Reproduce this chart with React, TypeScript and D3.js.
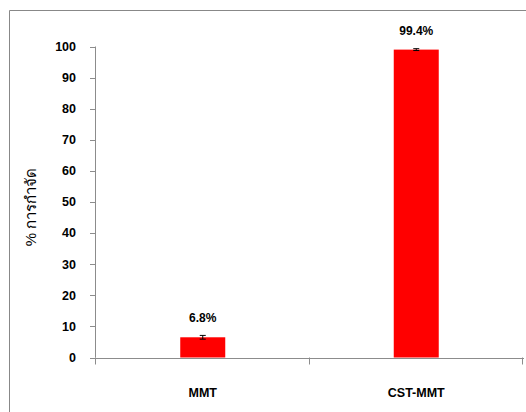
import React from "react";
import * as d3 from "d3";

const categories = ["MMT", "CST-MMT"];
const values = [6.5, 99.0];
const errors = [0.6, 0.3];
const valueLabels = ["6.8%", "99.4%"];
const yTicks = [0, 10, 20, 30, 40, 50, 60, 70, 80, 90, 100];
const yTitle = "% การกำจัด";

export default function App() {
  const W = 526, H = 412;
  const x0 = 95, x1 = 522;
  const yScale = d3.scaleLinear().domain([0, 100]).range([357.5, 46.5]);
  const xScale = d3.scaleBand().domain(categories).range([x0, x1]).paddingInner(0).paddingOuter(0);
  const barW = 45;
  const axisColor = "#8c8c8c";
  const font = "Arial, 'Liberation Sans', sans-serif";
  return (
    <svg width={W} height={H} style={{ position: "absolute", left: 0, top: 0, background: "#fff" }}>
      <rect x={0} y={0} width={W} height={H} fill="#fff" />
      {/* outer border */}
      <line x1={9.5} y1={10.5} x2={W} y2={10.5} stroke="#888" strokeWidth={1} />
      <line x1={9.5} y1={10.5} x2={9.5} y2={H} stroke="#888" strokeWidth={1} />
      {/* y axis */}
      <line x1={x0 + 0.5} y1={yScale(100)} x2={x0 + 0.5} y2={yScale(0)} stroke={axisColor} />
      {yTicks.map((t) => (
        <g key={t}>
          <line x1={x0 - 5} x2={x0 + 0.5} y1={Math.round(yScale(t)) + 0.5} y2={Math.round(yScale(t)) + 0.5} stroke={axisColor} />
          <text x={76} y={yScale(t)} dy="0.35em" textAnchor="end" fontFamily={font} fontWeight="bold" fontSize={12.5} fill="#000">
            {t}
          </text>
        </g>
      ))}
      {/* bars */}
      {categories.map((c, i) => {
        const cx = (xScale(c) as number) + xScale.bandwidth() / 2 + 1;
        const top = yScale(values[i]);
        const e1 = yScale(values[i] + errors[i]);
        const e2 = yScale(values[i] - errors[i]);
        return (
          <g key={c}>
            <rect x={cx - barW / 2} y={top} width={barW} height={yScale(0) - top} fill="#ff0000" />
            <line x1={cx} x2={cx} y1={e1} y2={e2} stroke="#000" strokeWidth={1} />
            <line x1={cx - 3} x2={cx + 3} y1={e1} y2={e1} stroke="#000" strokeWidth={1} />
            <line x1={cx - 3} x2={cx + 3} y1={e2} y2={e2} stroke="#000" strokeWidth={1} />
            <text x={cx} y={top - 19} dy="0.35em" textAnchor="middle" fontFamily={font} fontWeight="bold" fontSize={12} fill="#000">
              {valueLabels[i]}
            </text>
            <text x={cx} y={393} dy="0.35em" textAnchor="middle" fontFamily={font} fontWeight="bold" fontSize={12.5} fill="#000">
              {c}
            </text>
          </g>
        );
      })}
      {/* x axis */}
      <line x1={x0} x2={x1 + 2} y1={Math.round(yScale(0)) + 0.5} y2={Math.round(yScale(0)) + 0.5} stroke={axisColor} />
      {[...categories.map((c) => xScale(c) as number), x1].map((xx, i) => (
        <line key={i} x1={Math.round(xx) + 0.5} x2={Math.round(xx) + 0.5} y1={yScale(0)} y2={yScale(0) + 7} stroke={axisColor} />
      ))}
      {/* y title */}
      <text transform={`translate(31,207) rotate(-90)`} textAnchor="middle" dy="0.35em" fontFamily={font} fontSize={15} fill="#000">
        {yTitle}
      </text>
    </svg>
  );
}
